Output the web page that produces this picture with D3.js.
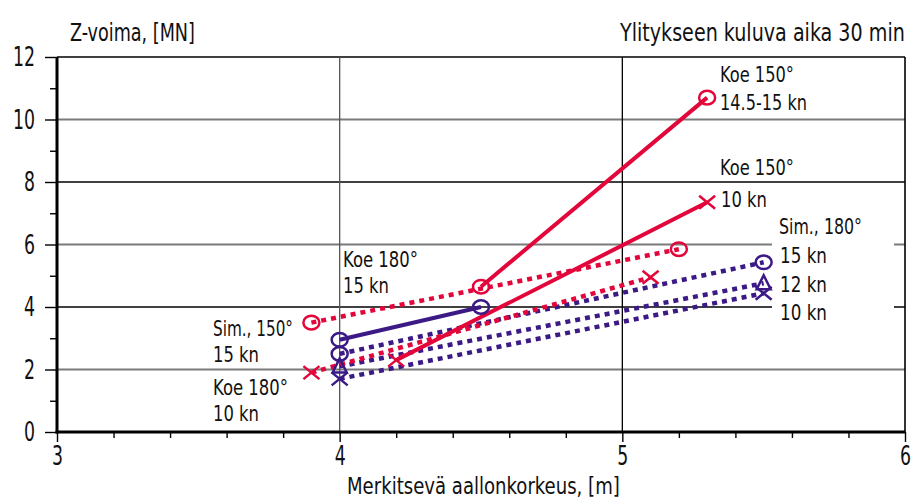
<!DOCTYPE html>
<html>
<head>
<meta charset="utf-8">
<script src="https://cdn.jsdelivr.net/npm/d3@7"></script>
<style>
  html, body { margin: 0; padding: 0; background: #fff; }
  svg { display: block; }
  text { font-family: "DejaVu Sans", sans-serif; font-stretch: condensed; fill: #111; }
</style>
</head>
<body>
<svg id="chart" width="924" height="500"></svg>
<script>
// Axis ticks
const xMajorTicks = [3, 4, 5, 6];
const yMajorTicks = [0, 2, 4, 6, 8, 10, 12];
const yMinorTicks = [1, 3, 5, 7, 9, 11];
const xMinorTicks = [3.2, 3.4, 3.6, 3.8, 4.2, 4.4, 4.6, 4.8, 5.2, 5.4, 5.6, 5.8];

// Series: significant wave height [m] -> Z-force [MN]
const koe150Fast_x = [4.5, 5.3];
const koe150Fast_y = [4.65, 10.7];
const koe150Slow_x = [4.2, 5.3];
const koe150Slow_y = [2.3, 7.35];
const sim150Fast_x = [3.9, 5.2];
const sim150Fast_y = [3.5, 5.85];
const sim150Slow_x = [3.9, 5.1];
const sim150Slow_y = [1.9, 4.95];
const koe180Fast_x = [4.0, 4.5];
const koe180Fast_y = [2.95, 4.0];
const sim180_15_x = [4.0, 5.5];
const sim180_15_y = [2.5, 5.43];
const sim180_12_x = [4.0, 5.5];
const sim180_12_y = [2.1, 4.76];
const sim180_10_x = [4.0, 5.5];
const sim180_10_y = [1.7, 4.44];

const RED = "#e2063a";
const PURPLE = "#3b1a86";

// drawing order: dotted simulations first, measured (solid) on top
const series = [
  { xs: sim180_15_x, ys: sim180_15_y, color: PURPLE, dashed: true, marker: "circle" },
  { xs: sim180_12_x, ys: sim180_12_y, color: PURPLE, dashed: true, marker: "triangle" },
  { xs: sim180_10_x, ys: sim180_10_y, color: PURPLE, dashed: true, marker: "cross" },
  { xs: sim150Fast_x, ys: sim150Fast_y, color: RED, dashed: true, marker: "circle" },
  { xs: sim150Slow_x, ys: sim150Slow_y, color: RED, dashed: true, marker: "cross" },
  { xs: koe180Fast_x, ys: koe180Fast_y, color: PURPLE, dashed: false, marker: "circle" },
  { xs: koe150Slow_x, ys: koe150Slow_y, color: RED, dashed: false, marker: "cross" },
  { xs: koe150Fast_x, ys: koe150Fast_y, color: RED, dashed: false, marker: "circle" }
];

const svg = d3.select("#chart");
const x = d3.scaleLinear().domain([3, 6]).range([57, 905]);
const y = d3.scaleLinear().domain([0, 12]).range([432, 57]);

// horizontal grid: alternating black / grey
const grid = svg.append("g");
grid.selectAll("line.h").data(yMajorTicks.filter(d => d > 0)).join("line")
  .attr("x1", x(3)).attr("x2", x(6))
  .attr("y1", d => y(d)).attr("y2", d => y(d))
  .attr("stroke", d => (d % 4 === 0) ? "#000" : "#7a7a7a")
  .attr("stroke-width", d => (d % 4 === 0) ? 1.4 : 2);
grid.selectAll("line.v").data([4, 5, 6]).join("line")
  .attr("x1", d => x(d)).attr("x2", d => x(d))
  .attr("y1", y(12)).attr("y2", y(0))
  .attr("stroke", d => d === 4 ? "#555" : "#000")
  .attr("stroke-width", d => d === 6 ? 1.6 : 1.3);

// label backdrop on the right side
svg.append("rect").attr("x", 772).attr("y", 212).attr("width", 122).attr("height", 112).attr("fill", "#fff");

// axes
const yAxis = svg.append("g").attr("transform", `translate(${x(3)},0)`)
  .call(d3.axisLeft(y).tickValues(yMajorTicks).tickSize(12).tickPadding(10).tickFormat(d3.format("d")));
const yMinor = svg.append("g").attr("transform", `translate(${x(3)},0)`)
  .call(d3.axisLeft(y).tickValues(yMinorTicks).tickSize(7).tickFormat(""));
const xAxis = svg.append("g").attr("transform", `translate(0,${y(0)})`)
  .call(d3.axisBottom(x).tickValues(xMajorTicks).tickSize(10).tickPadding(3).tickFormat(d3.format("d")));
const xMinor = svg.append("g").attr("transform", `translate(0,${y(0)})`)
  .call(d3.axisBottom(x).tickValues(xMinorTicks).tickSize(6).tickFormat(""));
[yAxis, yMinor, xAxis, xMinor].forEach(g => {
  g.select(".domain").remove();
  g.selectAll(".tick line").attr("stroke", "#000").attr("stroke-width", 1.4);
});
[yAxis, xAxis].forEach(g => {
  g.selectAll(".tick text")
    .attr("font-size", 27).attr("font-family", null).attr("fill", "#111")
    .each(function () {
      const t = d3.select(this);
      t.attr("textLength", t.text().length * 11).attr("lengthAdjust", "spacingAndGlyphs");
    });
});
xAxis.selectAll(".tick text").attr("dy", "0.75em");

// main axis lines
svg.append("line").attr("x1", x(3)).attr("x2", x(3)).attr("y1", y(12)).attr("y2", y(0) + 1.5)
  .attr("stroke", "#000").attr("stroke-width", 3);
svg.append("line").attr("x1", x(3) - 1.5).attr("x2", x(6)).attr("y1", y(0)).attr("y2", y(0))
  .attr("stroke", "#000").attr("stroke-width", 3);

// series lines
const line = d3.line().x(d => x(d[0])).y(d => y(d[1]));
const plot = svg.append("g");
series.forEach(s => {
  const pts = s.xs.map((v, i) => [v, s.ys[i]]);
  plot.append("path").attr("d", line(pts))
    .attr("fill", "none").attr("stroke", s.color)
    .attr("stroke-width", s.dashed ? 4.5 : 4)
    .attr("stroke-dasharray", s.dashed ? "5,5" : null);
});

// markers
series.forEach(s => {
  s.xs.forEach((v, i) => {
    const cx = x(v), cy = y(s.ys[i]);
    const g = plot.append("g").attr("transform", `translate(${cx},${cy})`)
      .attr("fill", "none").attr("stroke", s.color).attr("stroke-width", 2.5);
    if (s.marker === "circle") {
      g.append("ellipse").attr("rx", 8).attr("ry", 6.8);
    } else if (s.marker === "cross") {
      g.append("path").attr("d", "M-8,-6.5L8,6.5M-8,6.5L8,-6.5");
    } else {
      g.append("path").attr("d", "M0,-8L7,6L-7,6Z");
    }
  });
});

// texts: narrow lettering made by scaling each string horizontally to its width
const T = (tx, ty, str, size, w) => {
  const t = svg.append("text").attr("x", 0).attr("y", 0).attr("font-size", size).text(str);
  const natural = t.node().getComputedTextLength();
  t.attr("transform", `translate(${tx},${ty}) scale(${w / natural},1)`);
  return t;
};

T(70, 41, "Z-voima, [MN]", 24, 125);
T(620, 41, "Ylitykseen kuluva aika 30 min", 24, 285);
T(347, 494, "Merkitsevä aallonkorkeus, [m]", 23, 273);

// series annotations
const A = 22;
T(720, 82, "Koe 150°", A, 74);
T(720, 110, "14.5-15 kn", A, 87);
T(720, 175, "Koe 150°", A, 74);
T(721, 207, "10 kn", A, 46);
T(779, 234, "Sim., 180°", A, 83);
T(780, 263, "15 kn", A, 47);
T(780, 292, "12 kn", A, 47);
T(780, 320, "10 kn", A, 47);
T(343, 267, "Koe 180°", A, 75);
T(343, 293, "15 kn", A, 46);
T(213, 336, "Sim., 150°", A, 80);
T(213, 362, "15 kn", A, 46);
T(213, 395, "Koe 180°", A, 75);
T(213, 421, "10 kn", A, 46);
</script>
</body>
</html>
